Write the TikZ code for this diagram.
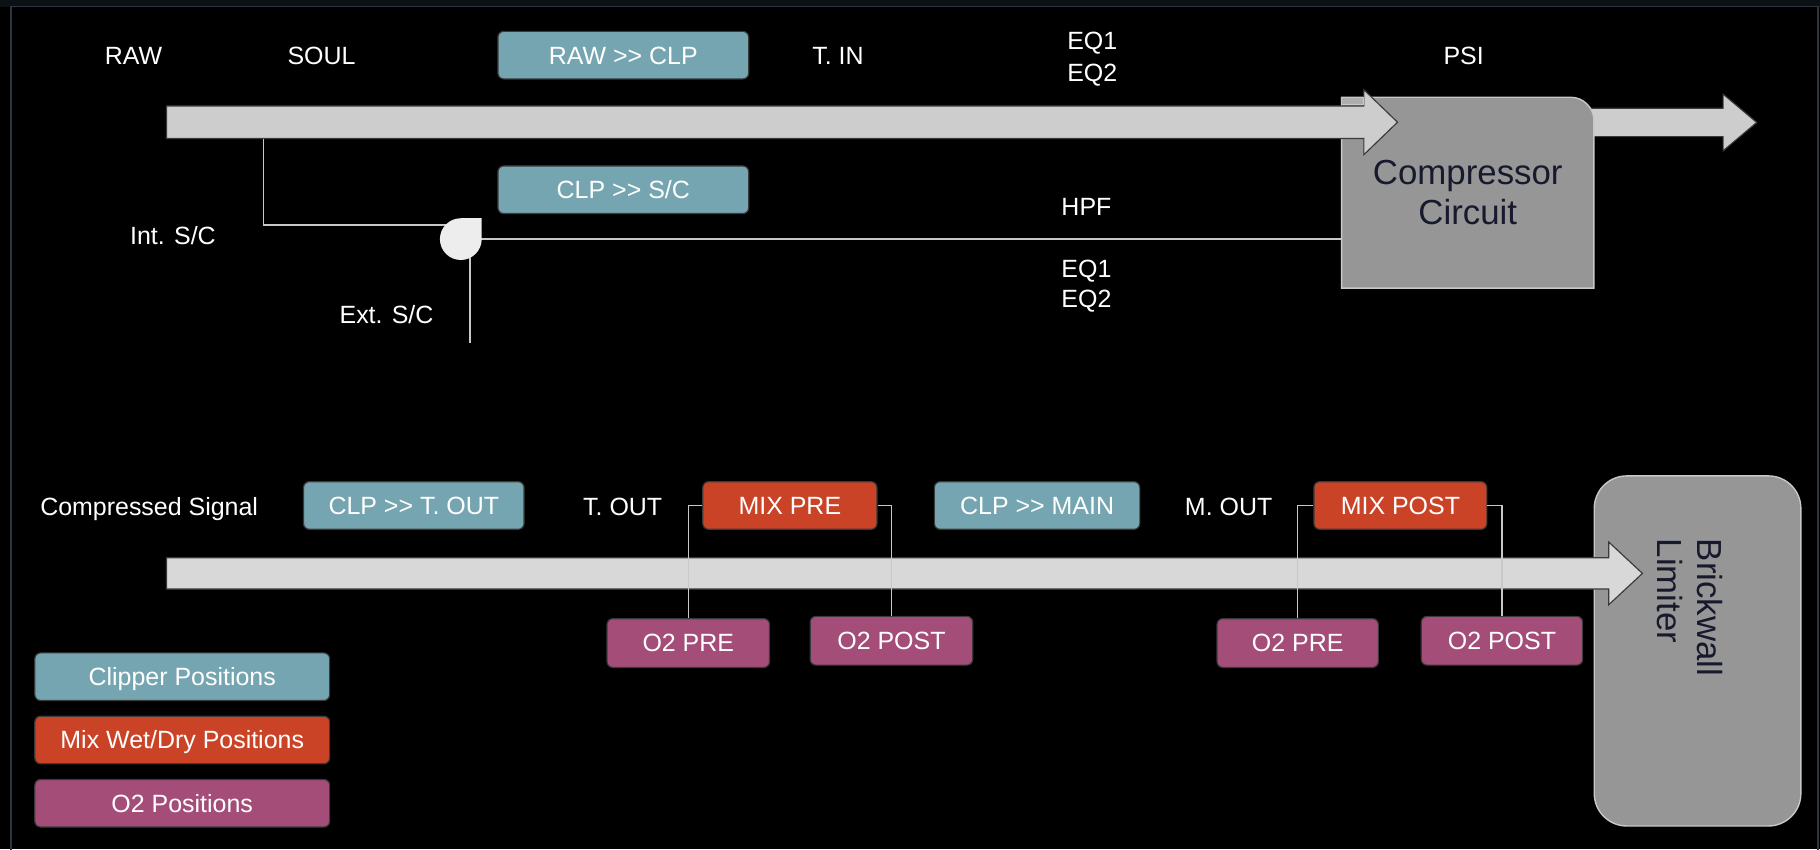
\documentclass[tikz,border=0pt]{standalone}
\usepackage{fontspec}
\setmainfont{Liberation Sans}
\usepackage{xcolor}
\usepackage{tikz}
\definecolor{C}{RGB}{117,165,176}
\definecolor{M}{RGB}{203,67,39}
\definecolor{O}{RGB}{164,77,121}
\definecolor{G}{RGB}{150,150,150}
\definecolor{A}{RGB}{205,205,205}
\definecolor{B}{RGB}{216,216,216}
\definecolor{W}{RGB}{200,200,200}
\definecolor{E}{RGB}{58,58,58}
\definecolor{F}{RGB}{44,54,66}
\definecolor{T}{RGB}{22,26,44}
\newcommand{\labelfont}{\fontsize{21.5}{26}\selectfont}
\newcommand{\signalarrow}[5]{\filldraw[fill=#5, draw=E, line width=1pt] (#1,#2-#4)--++(#3,0)--++(0,-#4)--++(29,2*#4)--++(-29,2*#4)--++(0,-#4)--++(-#3,0)--cycle;}
\tikzset{
    lbl/.style={text=white, font=\labelfont, inner sep=0pt, text height=15.4pt, text depth=0pt},
    posbox/.style={lbl, draw=E, line width=1pt, rounded corners=5pt, minimum height=41pt},
    clpbox/.style={posbox, fill=C},
    mixbox/.style={posbox, fill=M},
    otwobox/.style={posbox, fill=O, minimum height=42pt},
    wire/.style={draw=W, line width=1.5pt},
    stub/.style={draw=W, line width=1pt},
    unitbox/.style={fill=G, draw=W, line width=1.2pt, inner sep=0pt},
    unitfont/.style={text=T, font=\fontsize{30}{35}\selectfont, inner sep=0pt}
}

\begin{document}
\begin{tikzpicture}[x=1pt,y=-1pt]
\useasboundingbox (0,0) rectangle (1568,731.45);
\fill[black] (0,0) rectangle (1568,731.45);
\fill[F!30!black] (0,0) rectangle (1568,5.7);
\draw[F, line width=1.5pt] (9.5,740)--(9.5,5.7)--(1566.5,5.7)--(1566.5,740);
% input stage
\node[lbl] (raw) at (115,48) {RAW};
\node[lbl] (soul) at (277,48) {SOUL};
\node[clpbox, minimum width=216pt] (rawclp) at (537,47.5) {RAW >{}> CLP};
\node[lbl] (tin) at (722,48) {T. IN};
\node[lbl] (eqa) at (941,35.2) {EQ1};
\node[lbl] (eqb) at (941,62.5) {EQ2};
\node[lbl] (psi) at (1261,48.1) {PSI};
\node[minimum width=217pt, minimum height=164pt, inner sep=0pt] (comp) at (1264.5,166) {};
\signalarrow{1360}{105.5}{124.5}{12.2}{A}
\filldraw[unitbox] (comp.south west)--(comp.north west)--([xshift=-20pt]comp.north east) .. controls ([xshift=-9pt]comp.north east) and ([yshift=-9pt]comp.north east) .. ([yshift=-20pt]comp.north east)--(comp.south east)--cycle;
\signalarrow{143.5}{105.3}{1031.5}{14}{A}
\filldraw[fill=A!85!black, draw=W, line width=.8pt] (comp.north west) rectangle ++(19,6);
\node[unitfont, align=center] (comptext) at (comp.center) {Compressor\\Circuit};
% side chain
\coordinate (tap) at (227,119.5);
\coordinate (gate) at (397,206);
\coordinate (extin) at (405,295.5);
\draw[wire] (tap) |- ([yshift=12pt]gate);
\draw[wire] (gate) -- (gate -| comp.west);
\draw[wire] (extin) -- (extin |- gate);
\fill[white!93!black] (gate) circle[radius=18] (gate) rectangle ++(18,-18);
\node[lbl] (intsc) at (149,203) {Int. S/C};
\node[lbl] (extsc) at (333,271) {Ext. S/C};
\node[clpbox, minimum width=216pt] (clpsc) at (537,163.5) {CLP >{}> S/C};
\node[lbl] (hpf) at (936,178) {HPF};
\node[lbl] (eqc) at (936,231.2) {EQ1};
\node[lbl] (eqd) at (936,257) {EQ2};
% output stage
\node[unitbox, rounded corners=28pt, minimum width=178pt, minimum height=301.6pt] (limiter) at (1462.5,560.8) {};
\node[unitfont, rotate=-90, anchor=north west, align=left, font=\fontsize{30}{34}\selectfont] (limtext) at (1484,464) {Brickwall\\Limiter};
\signalarrow{143.5}{494}{1242.5}{13.5}{B}
\node[lbl] (compsig) at (128.5,436) {Compressed Signal};
\node[clpbox, minimum width=190pt] (clptout) at (356.5,435.5) {CLP >{}> T. OUT};
\node[lbl] (tout) at (536.5,436) {T. OUT};
\node[mixbox, minimum width=150pt] (mixpre) at (680.5,435.5) {MIX PRE};
\node[clpbox, minimum width=177pt] (clpmain) at (893.5,435.5) {CLP >{}> MAIN};
\node[lbl] (mout) at (1058.5,436) {M. OUT};
\node[mixbox, minimum width=149pt] (mixpost) at (1206.5,435.5) {MIX POST};
\node[otwobox, minimum width=140pt] (otwoprea) at (593,554) {O2 PRE};
\node[otwobox, minimum width=140pt] (otwoposta) at (768,552) {O2 POST};
\node[otwobox, minimum width=139pt] (otwopreb) at (1118,554) {O2 PRE};
\node[otwobox, minimum width=139pt] (otwopostb) at (1294,552) {O2 POST};
\draw[stub] (mixpre.west) -| (otwoprea.north);
\draw[stub] (mixpre.east) -| (otwoposta.north);
\draw[stub] (mixpost.west) -| (otwopreb.north);
\draw[stub] (mixpost.east) -| (otwopostb.north);
% legend
\node[clpbox, minimum width=254pt] (keyclp) at (157,583) {Clipper Positions};
\node[mixbox, minimum width=254pt] (keymix) at (157,637.5) {Mix Wet/Dry Positions};
\node[otwobox, minimum width=254pt, minimum height=41pt] (keyotwo) at (157,692) {O2 Positions};
\end{tikzpicture}
\end{document}
